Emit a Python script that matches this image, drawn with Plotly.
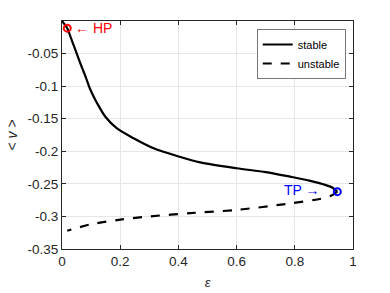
import plotly.graph_objects as go

# stable branch
stable_eps = [0.0, 0.018, 0.029, 0.046, 0.063, 0.081, 0.098, 0.121, 0.149, 0.189, 0.246,
              0.315, 0.401, 0.475, 0.6, 0.7, 0.784, 0.85, 0.9, 0.93, 0.946]
stable_v = [0.0, -0.011, -0.024, -0.0445, -0.065, -0.0855, -0.106, -0.1265, -0.147, -0.165, -0.180,
            -0.1955, -0.208, -0.217, -0.226, -0.232, -0.239, -0.245, -0.251, -0.256, -0.262]
# unstable branch
unstable_eps = [0.946, 0.93, 0.898, 0.784, 0.6, 0.44, 0.3, 0.2, 0.1, 0.018]
unstable_v = [-0.262, -0.267, -0.272, -0.280, -0.290, -0.295, -0.300, -0.305, -0.312, -0.322]
# special points
hp_eps, hp_v = [0.018], [-0.011]
tp_eps, tp_v = [0.946], [-0.262]

x_ticks = [0, 0.2, 0.4, 0.6, 0.8, 1]
x_labels = ["0", "0.2", "0.4", "0.6", "0.8", "1"]
y_ticks = [-0.35, -0.3, -0.25, -0.2, -0.15, -0.1, -0.05]
y_labels = ["-0.35", "-0.3", "-0.25", "-0.2", "-0.15", "-0.1", "-0.05"]

FONT = "Liberation Sans, Arial, sans-serif"
AX = "#262626"

fig = go.Figure()
fig.add_trace(go.Scatter(x=stable_eps, y=stable_v, mode="lines", name="stable",
                         line=dict(color="black", width=2.2, shape="spline", smoothing=0.8)))
fig.add_trace(go.Scatter(x=unstable_eps, y=unstable_v, mode="lines", name="unstable",
                         line=dict(color="black", width=2.2, dash="dash", shape="spline", smoothing=0.8)))
fig.add_trace(go.Scatter(x=hp_eps, y=hp_v, mode="markers", showlegend=False,
                         marker=dict(symbol="circle-open", size=7, color="red", line=dict(width=2))))
fig.add_trace(go.Scatter(x=tp_eps, y=tp_v, mode="markers", showlegend=False,
                         marker=dict(symbol="circle-open", size=7, color="blue", line=dict(width=2))))

fig.add_annotation(x=hp_eps[0] + 0.02, y=hp_v[0], text="← HP", showarrow=False,
                   xanchor="left", yanchor="middle", font=dict(color="red", size=14, family=FONT))
fig.add_annotation(x=tp_eps[0] - 0.052, y=tp_v[0] + 0.003, text="TP →", showarrow=False,
                   xanchor="right", yanchor="middle", font=dict(color="blue", size=14, family=FONT))

fig.update_layout(
    width=390, height=293,
    margin=dict(l=62, r=37, t=21, b=44),
    paper_bgcolor="white", plot_bgcolor="white",
    font=dict(family=FONT, size=13.5, color=AX),
    legend=dict(x=0.975, y=0.965, xanchor="right", yanchor="top",
                bgcolor="white", bordercolor="#777", borderwidth=1,
                font=dict(size=11, color="black"), tracegroupgap=0,
                itemwidth=30),
)
fig.update_xaxes(range=[0, 1], tickvals=x_ticks, ticktext=x_labels, automargin=False,
                 showgrid=True, gridcolor="#e6e6e6", zeroline=False,
                 showline=True, linecolor=AX, linewidth=1, mirror="ticks",
                 ticks="inside", ticklen=4, tickcolor=AX,
                 title=dict(text="<i>ε</i>", font=dict(size=13, color=AX), standoff=9))
fig.update_yaxes(range=[-0.35, 0], tickvals=y_ticks, ticktext=y_labels, automargin=False,
                 showgrid=True, gridcolor="#e6e6e6", zeroline=False,
                 showline=True, linecolor=AX, linewidth=1, mirror="ticks",
                 ticks="inside", ticklen=4, tickcolor=AX,
                 title=dict(text="&lt; <i>v</i> &gt;", font=dict(size=14, color=AX), standoff=6))

fig.write_html("out.html", config={"displayModeBar": False},
               post_script="document.body.style.margin='0';")
